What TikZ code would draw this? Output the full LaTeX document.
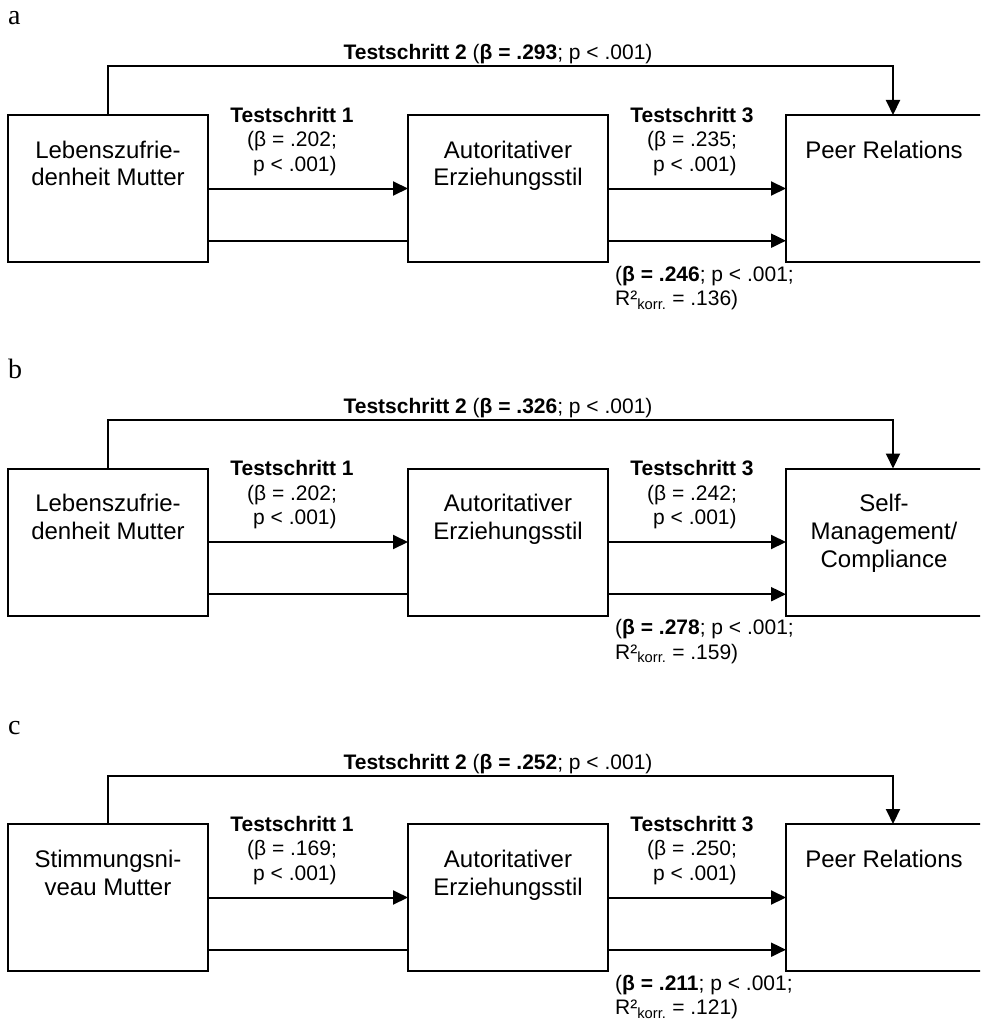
\documentclass[tikz,border=0pt]{standalone}
\usepackage{fontspec}
\setmainfont{Liberation Sans}
\newfontfamily\serifletter{Liberation Serif}
\usetikzlibrary{arrows.meta}

\tikzset{
  box/.style={draw, line width=2pt, fill=white, minimum width=200pt, minimum height=147pt, inner sep=0pt, outer sep=0pt},
  boxtext/.style={anchor=north, align=center, inner sep=0pt, font=\fontsize{24}{27.7}\selectfont},
  lbl/.style={anchor=north, align=center, inner sep=0pt, font=\fontsize{21}{24.5}\selectfont},
  conn/.style={line width=2pt},
  arr/.style={conn, -{Triangle[length=15pt,width=14pt]}},
  panelletter/.style={anchor=base west, inner sep=0pt, font=\serifletter\fontsize{28}{30}\selectfont},
}

\newcommand{\mypanel}[9]{%
  \begin{scope}[shift={(0,#1)}, name prefix=#2-]
    \node[panelletter] (letter) at (8,25) {#2};
    \node[box] (L) at (108,188.5) {};
    \node[box] (M) at (508,188.5) {};
    \node[box, minimum width=214pt] (R) at (893,188.5) {};
    \node[boxtext] (Ltext) at (108,140.7) {#3};
    \node[boxtext] (Mtext) at (508,140.7) {Autoritativer\\Erziehungsstil};
    \node[boxtext] (Rtext) at (884,140.7) {#9};
    \coordinate (top) at (0,66.5);
    \coordinate (low) at (0,240.7);
    \draw[arr] (L.north) -- (L.north |- top) -| (R.north);
    \draw[arr] (L.east) -- (M.west);
    \draw[arr] (M.east) -- (R.west);
    \draw[conn] (L.east |- low) -- (M.west |- low);
    \draw[arr] (M.east |- low) -- (R.west |- low);
    \node[lbl, anchor=base] (t2) at (498,60) {\textbf{Testschritt 2} (\textbf{β = #4}; p < .001)};
    \node[lbl] (t1) at (292,106.9) {\textbf{Testschritt 1}\\(β = #5;\\~p < .001)};
    \node[lbl] (t3) at (692,106.9) {\textbf{Testschritt 3}\\(β = #6;\\~p < .001)};
    \node[lbl, anchor=north west, align=left] (tc) at (615,266) {(\textbf{β = #7}; p < .001;\\R²\textsubscript{korr.} = #8)};
  \end{scope}%
}

\begin{document}
\begin{tikzpicture}[x=1pt, y=-1pt]
  \path[use as bounding box, clip] (0,0) rectangle (980,1022);
  \fill[white] (0,0) rectangle (980,1022);
  \mypanel{0}{a}{Lebenszufrie-\\denheit Mutter}{.293}{.202}{.235}{.246}{.136}{Peer Relations}
  \mypanel{353.5}{b}{Lebenszufrie-\\denheit Mutter}{.326}{.202}{.242}{.278}{.159}{Self-\\Management/\\Compliance}
  \mypanel{709}{c}{Stimmungsni-\\veau Mutter}{.252}{.169}{.250}{.211}{.121}{Peer Relations}
\end{tikzpicture}
\end{document}
